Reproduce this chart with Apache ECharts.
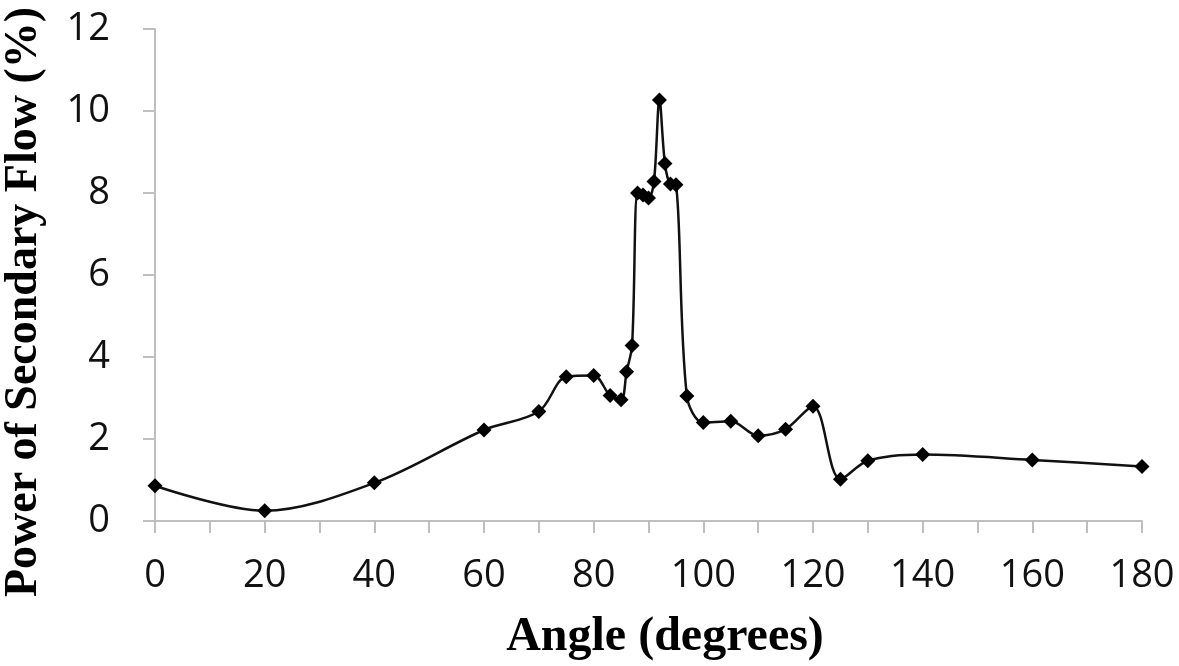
<!DOCTYPE html>
<html>
<head>
<meta charset="utf-8">
<title>Power of Secondary Flow</title>
<script src="https://cdn.jsdelivr.net/npm/echarts@6/dist/echarts.min.js"></script>
<style>
  html, body { margin: 0; padding: 0; background: #fff; }
  #main { width: 1179px; height: 666px; }
</style>
</head>
<body>
<div id="main"></div>
<script>
// angle (deg) vs power of secondary flow (%)
var angles = [0, 20, 40, 60, 70, 75, 80, 83, 85, 86, 87, 88, 89, 90, 91, 92, 93, 94, 95, 97,
              100, 105, 110, 115, 120, 125, 130, 140, 160, 180];
var power  = [0.86, 0.25, 0.93, 2.22, 2.67, 3.52, 3.55, 3.06, 2.96, 3.64, 4.28, 8.0, 7.95, 7.88, 8.28, 10.27, 8.72, 8.22, 8.2, 3.05,
              2.4, 2.43, 2.08, 2.24, 2.8, 1.02, 1.47, 1.62, 1.49, 1.33];

var points = angles.map(function (a, i) { return [a, power[i]]; });

var axisGrey = '#bfbfbf';
var chart = echarts.init(document.getElementById('main'));

chart.setOption({
  animation: false,
  grid: { left: 155, right: 37, top: 29, bottom: 145, outerBoundsMode: 'none', containLabel: false },
  xAxis: {
    type: 'value',
    min: 0, max: 180, interval: 20,
    name: 'Angle (degrees)',
    nameLocation: 'middle',
    nameGap: 93,
    nameTextStyle: { fontFamily: 'Liberation Serif', fontWeight: 'bold', fontSize: 48, color: '#000', padding: [0, 0, 0, 33] },
    axisLine: { show: true, lineStyle: { color: axisGrey, width: 2 } },
    axisTick: { show: true, length: 12, lineStyle: { color: axisGrey, width: 2 } },
    minorTick: { show: true, splitNumber: 2, length: 12, lineStyle: { color: axisGrey, width: 2 } },
    splitLine: { show: false },
    axisLabel: { margin: 36, fontFamily: 'Open Sans', fontSize: 38, color: '#111' }
  },
  yAxis: {
    type: 'value',
    min: 0, max: 12, interval: 2,
    name: 'Power of Secondary Flow (%)',
    nameLocation: 'middle',
    nameGap: 108,
    nameTextStyle: { fontFamily: 'Liberation Serif', fontWeight: 'bold', fontSize: 46, color: '#000', padding: [0, 54, 0, 0] },
    axisLine: { show: true, lineStyle: { color: axisGrey, width: 2 } },
    axisTick: { show: true, length: 12, lineStyle: { color: axisGrey, width: 2 } },
    splitLine: { show: false },
    axisLabel: { margin: 45, fontFamily: 'Open Sans', fontSize: 38, color: '#111' }
  },
  series: [{
    type: 'line',
    data: points,
    smooth: 0.33,
    symbol: 'diamond',
    symbolSize: 15,
    itemStyle: { color: '#000' },
    lineStyle: { color: '#111', width: 2.5 }
  }]
});
</script>
</body>
</html>
